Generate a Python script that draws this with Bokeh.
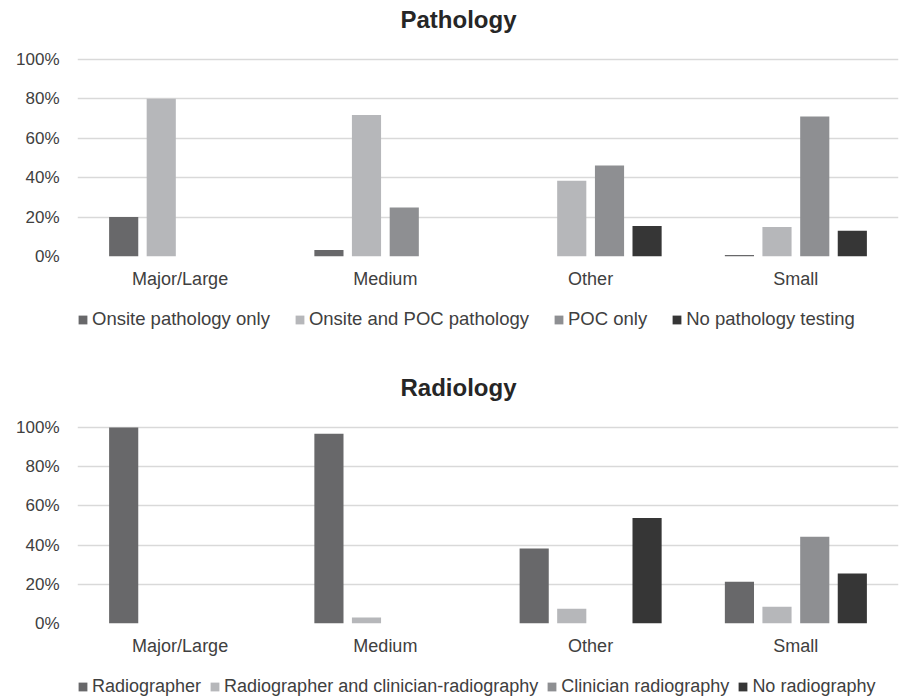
from bokeh.plotting import figure
from bokeh.models import (FactorRange, Range1d, FixedTicker, NumeralTickFormatter,
                          Legend, LegendItem, ColumnDataSource, Title)
from bokeh.transform import dodge
from bokeh.layouts import column
from bokeh.embed import file_html
from bokeh.resources import INLINE

categories = ["Major/Large", "Medium", "Other", "Small"]

path_labels = ["Onsite pathology only", "Onsite and POC pathology", "POC only", "No pathology testing"]
path_onsite = [0.200, 0.033, 0.0, 0.007]
path_onsite_poc = [0.800, 0.718, 0.384, 0.150]
path_poc = [0.0, 0.249, 0.462, 0.711]
path_none = [0.0, 0.0, 0.155, 0.131]

rad_labels = ["Radiographer", "Radiographer and clinician-radiography", "Clinician radiography", "No radiography"]
rad_radiographer = [1.000, 0.968, 0.383, 0.213]
rad_both = [0.0, 0.031, 0.075, 0.085]
rad_clinician = [0.0, 0.0, 0.0, 0.442]
rad_none = [0.0, 0.0, 0.538, 0.255]

y_ticks = [0, 0.2, 0.4, 0.6, 0.8, 1.0]

colors = ["#68686a", "#b6b7ba", "#8e8f92", "#363636"]
offsets = [-0.275, -0.092, 0.092, 0.275]
FONT = "Liberation Sans"
TEXT = "#404040"
COLS = ["s0", "s1", "s2", "s3"]


def make_source(series):
    return ColumnDataSource(dict(cat=categories, s0=series[0], s1=series[1],
                                 s2=series[2], s3=series[3]))


def make_chart(title, series, height, top, bottom, spacer_size):
    p = figure(x_range=FactorRange(*categories), y_range=Range1d(0, 1.015),
               width=901, height=height, output_backend="svg", toolbar_location=None,
               min_border_left=77, min_border_right=3, min_border_top=top,
               min_border_bottom=bottom)
    p.outline_line_color = None

    # spacer (nearest the frame) then the visible title above it
    p.add_layout(Title(text=" ", text_font=FONT, text_font_size=spacer_size, standoff=0), "above")
    p.add_layout(Title(text=title, align="left", offset=323, standoff=0, text_font=FONT,
                       text_font_size="24px", text_font_style="bold", text_color="#262626"),
                 "above")

    src = make_source(series)
    for i in range(4):
        p.vbar(x=dodge("cat", offsets[i], range=p.x_range), top=COLS[i], width=0.142,
               source=src, fill_color=colors[i], line_color=None)

    p.yaxis.ticker = FixedTicker(ticks=y_ticks)
    p.yaxis.formatter = NumeralTickFormatter(format="0%")
    p.yaxis.axis_line_color = None
    p.yaxis.major_tick_line_color = None
    p.yaxis.minor_tick_line_color = None
    p.yaxis.major_tick_out = 0
    p.yaxis.major_tick_in = 0
    p.yaxis.major_label_standoff = 18
    p.yaxis.major_label_text_font = FONT
    p.yaxis.major_label_text_font_size = "17px"
    p.yaxis.major_label_text_color = TEXT

    p.xaxis.axis_line_color = None
    p.xaxis.major_tick_line_color = None
    p.xaxis.minor_tick_line_color = None
    p.xaxis.major_tick_out = 0
    p.xaxis.major_tick_in = 0
    p.xaxis.major_label_standoff = 12
    p.xaxis.major_label_text_font = FONT
    p.xaxis.major_label_text_font_size = "18px"
    p.xaxis.major_label_text_color = TEXT

    p.xgrid.grid_line_color = None
    p.ygrid.grid_line_color = "#d9d9d9"
    p.ygrid.grid_line_width = 1.3
    return p


def make_legend(labels, series, height, loc, spacing, font_size):
    lp = figure(width=901, height=height, x_range=FactorRange(*categories),
                y_range=Range1d(0, 1), output_backend="svg", toolbar_location=None,
                min_border_left=77, min_border_right=3, min_border_top=0,
                min_border_bottom=0, x_axis_location=None, y_axis_location=None)
    lp.outline_line_color = None
    lp.grid.visible = False
    src = make_source(series)
    items = []
    for i in range(4):
        r = lp.vbar(x=dodge("cat", offsets[i], range=lp.x_range), top=COLS[i], width=0.142,
                    source=src, fill_color=colors[i], line_color=None, visible=False)
        items.append(LegendItem(label=labels[i], renderers=[r]))
    legend = Legend(items=items, orientation="horizontal", location=loc,
                    glyph_width=11, glyph_height=11, label_standoff=4, spacing=spacing,
                    label_height=20, padding=0, margin=0, border_line_color=None,
                    background_fill_alpha=0, inactive_fill_alpha=0,
                    label_text_font=FONT, label_text_font_size=font_size, label_text_color=TEXT)
    lp.add_layout(legend)
    return lp


path_series = [path_onsite, path_onsite_poc, path_poc, path_none]
rad_series = [rad_radiographer, rad_both, rad_clinician, rad_none]

p1 = make_chart("Pathology", path_series, 296, 56, 40, "20px")
leg1 = make_legend(path_labels, path_series, 49, (0, 15), 24, "18.5px")
p2 = make_chart("Radiology", rad_series, 318, 79, 40, "20px")
leg2 = make_legend(rad_labels, rad_series, 36, (0, 2), 8, "18px")

layout = column(p1, leg1, p2, leg2, spacing=0)
open("out.html", "w").write(file_html(layout, INLINE))
